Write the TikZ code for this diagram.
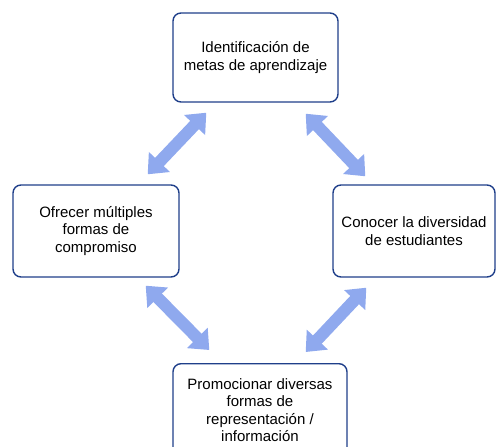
\documentclass[tikz,border=0pt]{standalone}
\usepackage{fontspec}
\setmainfont{Liberation Sans}
\usetikzlibrary{arrows.meta,calc}
\definecolor{boxline}{HTML}{1F3F8A}
\definecolor{arrowblue}{HTML}{8FA9EE}
\begin{document}
\begin{tikzpicture}[x=1pt,y=-1pt,
  stepbox/.style={draw=boxline,line width=1.4pt,rounded corners=8pt,fill=white,align=center,
    font=\fontsize{15}{17.5}\selectfont,inner sep=0pt},
  dblarrow/.style={draw=arrowblue,line width=12pt,
    {Triangle[width=28pt,length=17pt]}-{Triangle[width=28pt,length=17pt]}}]
\useasboundingbox (0,0) rectangle (496,447);
\clip (0,0) rectangle (496,447);
\node[stepbox,minimum width=165pt,minimum height=89pt] (top) at (255.5,57.5)
  {Identificación de\\metas de aprendizaje};
\node[stepbox,minimum width=166pt,minimum height=92pt] (left) at (96,231)
  {Ofrecer múltiples\\formas de\\compromiso};
\node[stepbox,minimum width=162pt,minimum height=92pt] (right) at (414,231)
  {Conocer la diversidad\\de estudiantes};
\node[stepbox,minimum width=174pt,minimum height=92pt,anchor=north] (bottom) at (260,363)
  {\strut};
\node[align=center,font=\fontsize{15}{17.5}\selectfont,inner sep=0pt] (btext) at (260,410)
  {Promocionar diversas\\formas de\\representación /\\información};
\coordinate (a1) at ($(left.north east)+(-32,-10)$);
\coordinate (a2) at ($(top.south west)+(34,10)$);
\coordinate (b1) at ($(top.south east)+(-33,11)$);
\coordinate (b2) at ($(right.north west)+(33,-8)$);
\coordinate (c1) at ($(right.south west)+(34,10)$);
\coordinate (c2) at ($(bottom.north east)+(-42,-11)$);
\coordinate (d1) at ($(left.south east)+(-34,8)$);
\coordinate (d2) at ($(bottom.north west)+(37,-13)$);
\draw[dblarrow] (a1) -- (a2);
\draw[dblarrow] (b1) -- (b2);
\draw[dblarrow] (c1) -- (c2);
\draw[dblarrow] (d1) -- (d2);
\end{tikzpicture}
\end{document}
